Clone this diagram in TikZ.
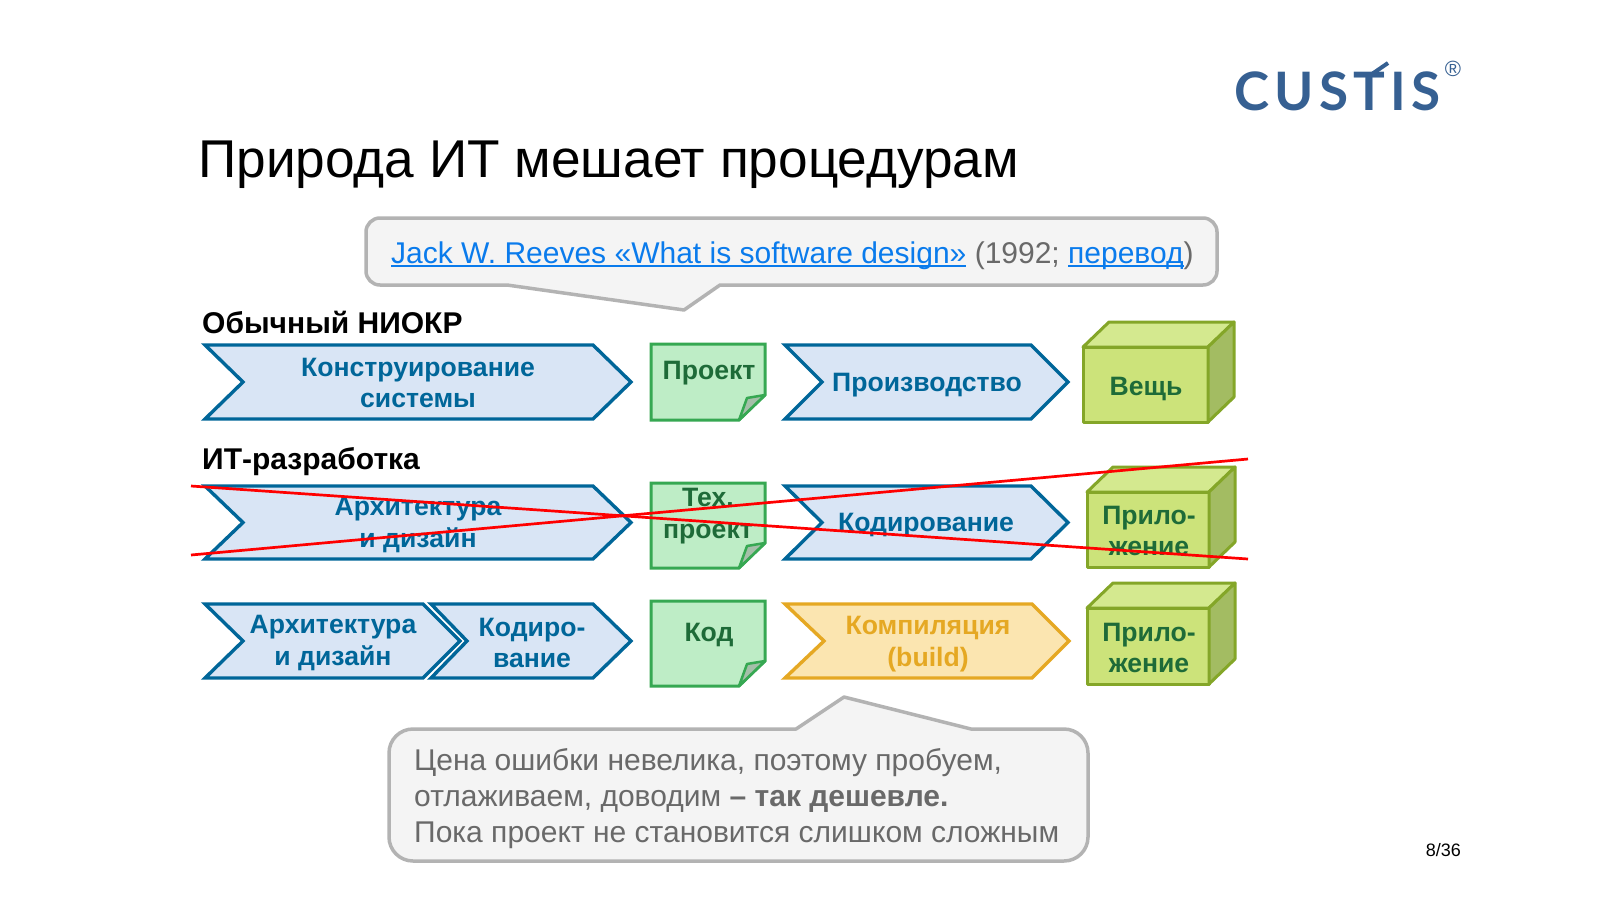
\documentclass[tikz,border=0pt]{standalone}
\usepackage{fontspec}
\setmainfont{Liberation Sans}
\newfontfamily\logofont[LetterSpace=10]{Lato}
\definecolor{chevfill}{HTML}{D9E5F5}
\definecolor{chevline}{HTML}{006699}
\definecolor{notefill}{HTML}{BEEDC6}
\definecolor{noteline}{HTML}{36A852}
\definecolor{notetext}{HTML}{1E6B38}
\definecolor{notefold}{HTML}{A5BFA9}
\definecolor{cubefill}{HTML}{CCE37A}
\definecolor{cubetop}{HTML}{D4E98F}
\definecolor{cubeside}{HTML}{A3BC62}
\definecolor{cubeline}{HTML}{84A628}
\definecolor{orfill}{HTML}{FBE5B0}
\definecolor{orline}{HTML}{E5A823}
\definecolor{calfill}{HTML}{F4F4F4}
\definecolor{calline}{HTML}{B3B3B3}
\definecolor{caltext}{HTML}{696969}
\definecolor{linkc}{HTML}{0A7BEC}
\definecolor{logoc}{HTML}{366092}
\newsavebox{\lnkbox}
\newcommand{\lnk}[1]{\sbox{\lnkbox}{\color{linkc}#1}{\color{linkc}\rlap{\rule[-3.5pt]{\wd\lnkbox}{1.8pt}}\usebox{\lnkbox}}}
\tikzset{
  x=1pt,y=-1pt,
  chev/.style={draw=chevline,fill=chevfill,line width=3.4pt,line join=miter},
  chevor/.style={draw=orline,fill=orfill,line width=3.4pt,line join=miter},
  chevtxt/.style={text=chevline,font=\fontsize{26.6}{31.5}\selectfont\bfseries,align=center},
  ortxt/.style={text=orline,font=\fontsize{26.6}{31.5}\selectfont\bfseries,align=center},
  notebox/.style={draw=noteline,fill=notefill,line width=3pt,line join=miter},
  notefoldst/.style={draw=noteline,fill=notefold,line width=2.5pt,line join=round},
  notetxt/.style={text=notetext,font=\fontsize{26.6}{31.5}\selectfont\bfseries,align=center},
  cubest/.style={draw=cubeline,line width=3pt,line join=round},
  headtxt/.style={text=black,font=\fontsize{30}{34}\selectfont\bfseries,anchor=base west,inner sep=0pt},
  caltxt/.style={text=caltext,font=\fontsize{30}{36}\selectfont,align=left,anchor=west,inner sep=0pt},
  calst/.style={draw=calline,fill=calfill,line width=3.5pt,line join=round},
  strike/.style={draw=red,line width=2.7pt}
}
% left, notch, shoulder, tip, top, bottom, style
\newcommand{\chevshape}[7]{\draw[#7] (#1,#5) -- (#3,#5) -- (#4,{(#5+#6)/2}) -- (#3,#6) -- (#1,#6) -- (#2,{(#5+#6)/2}) -- cycle;}
% left, right, top, bottom
\newcommand{\noteshape}[4]{%
  \draw[notebox] (#1,#3) -- (#2,#3) -- (#2,#4-25) -- (#2-26,#4) -- (#1,#4) -- cycle;
  \draw[notefoldst] (#2,#4-25) -- (#2-18,#4-22) -- (#2-26,#4) -- cycle;}
% left, right, top, bottom (front face)
\newcommand{\cubeshape}[4]{%
  \draw[cubest,fill=cubefill] (#1,#3) rectangle (#2,#4);
  \draw[cubest,fill=cubetop] (#1,#3) -- (#1+26,#3-25) -- (#2+26,#3-25) -- (#2,#3) -- cycle;
  \draw[cubest,fill=cubeside] (#2,#3) -- (#2+26,#3-25) -- (#2+26,#4-25) -- (#2,#4) -- cycle;}
\begin{document}
\begin{tikzpicture}
\useasboundingbox (0,0) rectangle (1600,900);
\fill[white] (0,0) rectangle (1600,900);

% logo
\node[text=logoc,font=\fontsize{53}{53}\selectfont\logofont\bfseries,anchor=base west,inner sep=0pt] (logo) at (1234,110) {CUSTIS};
\coordinate (flagA) at (1372,74);
\coordinate (flagB) at (1388,63);
\draw[logoc,line width=4pt] (flagA) -- (flagB);
\node[text=logoc,font=\fontsize{22}{22}\selectfont] (reg) at (1453,69) {®};

% title
\node[text=black,font=\fontsize{53.2}{60}\selectfont,anchor=base west,inner sep=0pt] (title) at (198,177) {Природа ИТ мешает процедурам};

% callout 1
\draw[calst,rounded corners=14pt] (366,218) -- (1217,218) -- (1217,285) [sharp corners] -- (720,285) -- (684,310) -- (507,285) [rounded corners=14pt] -- (366,285) -- cycle;
\node[caltxt] (ref) at (391,256) {\lnk{Jack W. Reeves «What is software design»} (1992; \lnk{перевод})};

% headings
\node[headtxt] (h1) at (202,333) {Обычный НИОКР};
\node[headtxt] (h2) at (202,469) {ИТ-разработка};

% row 1
\chevshape{205}{243}{593}{631}{345}{419}{chev}
\node[chevtxt] (a1) at (418,383) {Конструирование\\системы};
\noteshape{651}{765}{344}{420}
\node[notetxt] (n1) at (709,373) {Проект};
\chevshape{785}{822}{1031}{1068}{345}{419}{chev}
\node[chevtxt] (b1) at (927,385) {Производство};
\cubeshape{1083}{1208}{347}{422}
\node[notetxt] (c1) at (1146,389) {Вещь};

% row 2
\chevshape{205}{243}{593}{631}{486}{559}{chev}
\node[chevtxt] (a2) at (418,525) {Архитектура\\и дизайн};
\noteshape{651}{765}{483}{568}
\node[notetxt] (n2) at (708,516) {Тех.\\проект};
\chevshape{785}{822}{1031}{1068}{486}{559}{chev}
\node[chevtxt] (b2) at (926,525) {Кодирование};
\cubeshape{1087}{1209}{492}{567}
\node[notetxt] (c2) at (1149,531) {Прило-\\жение};

% row 3
\chevshape{205}{243}{423}{460}{604}{678}{chev}
\node[chevtxt] (a3) at (333,643) {Архитектура\\и дизайн};
\chevshape{431}{467}{593}{631}{604}{678}{chev}
\node[chevtxt] (a4) at (532,643) {Кодиро-\\вание};
\noteshape{651}{765}{601}{686}
\node[notetxt] (n3) at (709,635) {Код};
\chevshape{785}{824}{1032}{1069}{604}{678}{chevor}
\node[ortxt] (b3) at (928,644) {Компиляция\\(build)};
\cubeshape{1087}{1209}{608}{684}
\node[notetxt] (c3) at (1149,648) {Прило-\\жение};

% callout 2
\draw[calst,rounded corners=24pt] (389,729) [sharp corners] -- (796,729) -- (844,697) -- (971,729) [rounded corners=24pt] -- (1088,729) -- (1088,861) -- (389,861) -- cycle;
\node[caltxt] (note) at (414,799) {Цена ошибки невелика, поэтому пробуем,\\отлаживаем, доводим \textbf{– так дешевле.}\\Пока проект не становится слишком сложным};

% page number
\node[text=black,font=\fontsize{18}{20}\selectfont,anchor=base east,inner sep=0pt] (page) at (1461,856) {8/36};

% crossing lines
\coordinate (s1a) at (191,486);
\coordinate (s1b) at (1248,559);
\coordinate (s2a) at (191,555);
\coordinate (s2b) at (1248,459);
\draw[strike] (s1a) -- (s1b);
\draw[strike] (s2a) -- (s2b);
\end{tikzpicture}
\end{document}
